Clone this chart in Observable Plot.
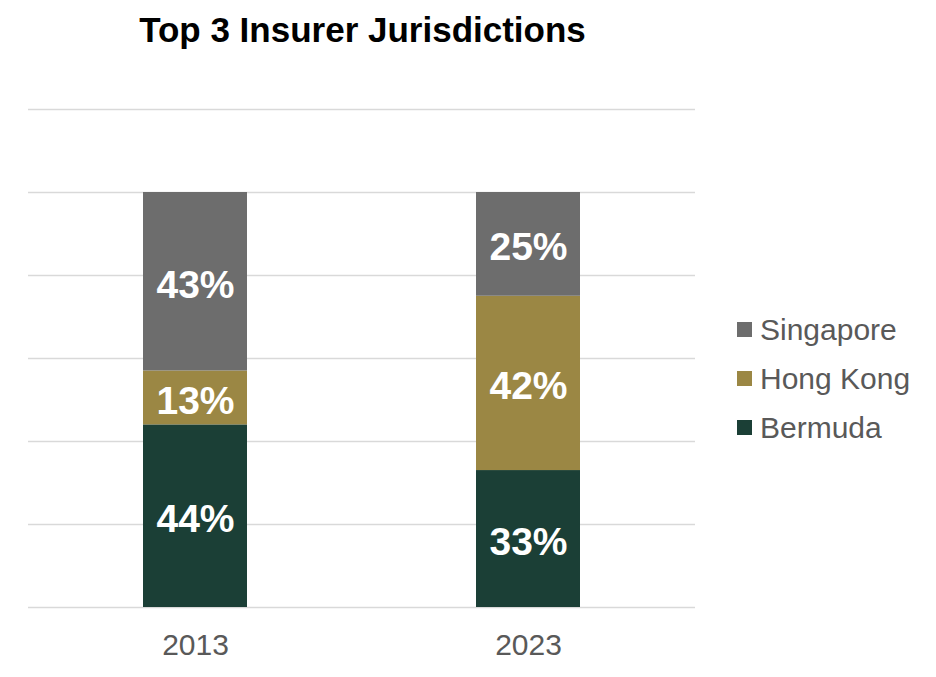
<!DOCTYPE html>
<html>
<head>
<meta charset="utf-8">
<script src="https://cdn.jsdelivr.net/npm/d3@7"></script>
<script src="https://cdn.jsdelivr.net/npm/@observablehq/plot@0.6"></script>
<style>
  html, body { margin: 0; padding: 0; background: #fff; }
  #wrap { position: relative; width: 936px; height: 677px; font-family: "Liberation Sans", Arial, sans-serif; }
  #title { position: absolute; left: 29px; width: 667px; top: 12px; line-height: 35px; text-align: center; font-weight: bold; font-size: 35px; color: #000; white-space: nowrap; }
  #chart { position: absolute; left: 0; top: 70px; }
  #legend { position: absolute; left: 737px; top: 305px; }
  .item { display: flex; align-items: center; height: 49px; font-size: 30px; color: #595959; white-space: nowrap; }
  .sw { width: 15px; height: 15px; margin-right: 8px; flex: none; }
</style>
</head>
<body>
<div id="wrap">
  <div id="title">Top 3 Insurer Jurisdictions</div>
  <div id="chart"></div>
  <div id="legend"></div>
</div>
<script>
const years = ["2013", "2023"];
const seriesNames = ["Bermuda", "Hong Kong", "Singapore"];
const bermuda = [44, 33];
const hongKong = [13, 42];
const singapore = [43, 25];
const yTicks = [0, 20, 40, 60, 80, 100, 120];
const colors = ["#1b3f36", "#9b8744", "#6d6d6d"];

const valuesBySeries = [bermuda, hongKong, singapore];
const data = [];
seriesNames.forEach((s, i) => {
  years.forEach((y, j) => data.push({year: y, series: s, value: valuesBySeries[i][j]}));
});

const chart = Plot.plot({
  width: 936,
  height: 607,
  marginLeft: 28,
  marginRight: 241,
  marginTop: 39,
  marginBottom: 70,
  style: {fontFamily: "Liberation Sans, Arial, sans-serif", color: "#595959", background: "transparent"},
  x: {domain: years, paddingInner: 0.688, paddingOuter: 0.344, label: null},
  y: {domain: [0, 120], axis: null},
  color: {domain: seriesNames, range: colors},
  marks: [
    Plot.ruleY(yTicks, {stroke: "#d9d9d9", strokeWidth: 1.3}),
    Plot.barY(data, Plot.stackY({x: "year", y: "value", fill: "series", z: "series"})),
    Plot.text(data, Plot.stackY({x: "year", y: "value", z: "series", text: d => d.value + "%", fill: "white", fontSize: 39, fontWeight: "bold", dy: 3.5})),
    Plot.axisX({tickSize: 0, tickPadding: 26, fontSize: 30, fill: "#595959", label: null})
  ]
});
document.getElementById("chart").appendChild(chart);

const legend = document.getElementById("legend");
[...seriesNames].reverse().forEach(s => {
  const i = seriesNames.indexOf(s);
  const item = document.createElement("div");
  item.className = "item";
  const sw = document.createElement("div");
  sw.className = "sw";
  sw.style.background = colors[i];
  item.appendChild(sw);
  item.appendChild(document.createTextNode(s));
  legend.appendChild(item);
});
</script>
</body>
</html>
